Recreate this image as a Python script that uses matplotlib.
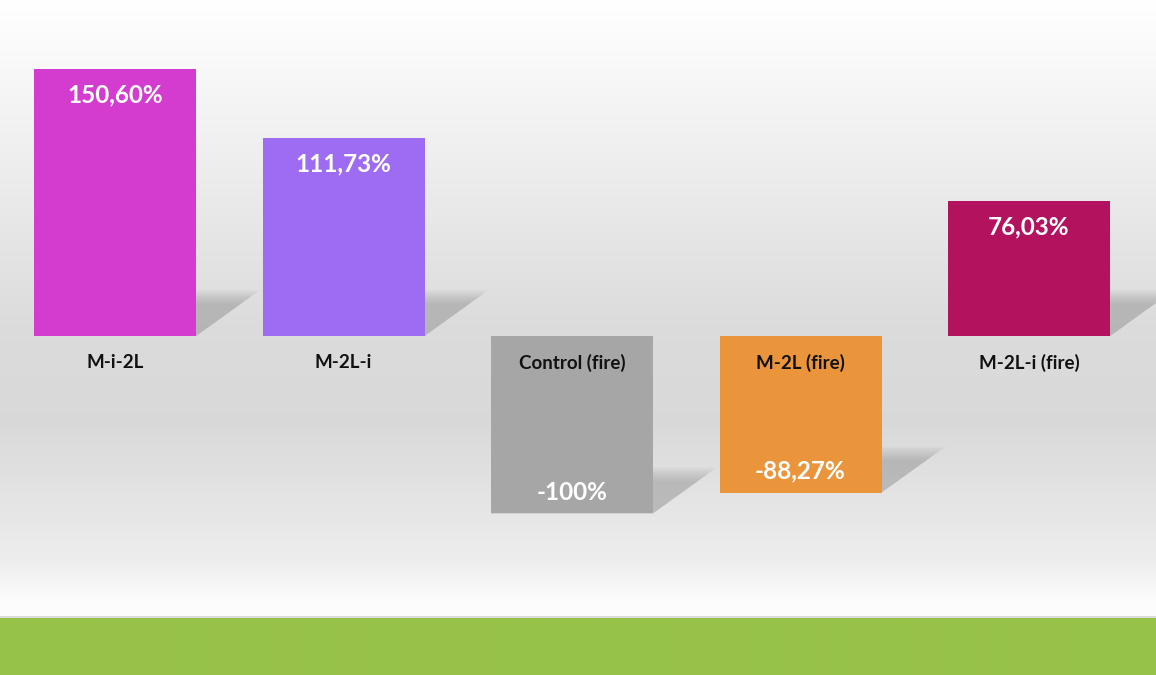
import numpy as np
import matplotlib.pyplot as plt
from matplotlib.patches import Polygon

categories = ["M-i-2L", "M-2L-i", "Control (fire)", "M-2L (fire)", "M-2L-i (fire)"]
values = [150.60, 111.73, -100.0, -88.27, 76.03]
value_labels = ["150,60%", "111,73%", "-100%", "-88,27%", "76,03%"]
colors = ["#d33ccf", "#9d6cf2", "#a6a6a6", "#ea943c", "#b3125f"]

W, H, DPI = 1156, 675, 100
fig = plt.figure(figsize=(W / DPI, H / DPI), dpi=DPI)

# background: white -> light gray -> white, green band at the bottom
bg = fig.add_axes([0, 0, 1, 1])
bg.set_axis_off()
rows = np.arange(H)
shade = np.interp(rows, [0, 40, 330, 420, 560, 600, 618], [1.0, 0.985, 0.86, 0.85, 0.93, 0.99, 0.99])
img = np.repeat(shade[:, None], 2, axis=1)
img = np.dstack([img, img, img])
img[618:] = np.array([0x97, 0xc2, 0x4a]) / 255
img[616:618] = 0.86
bg.imshow(img, aspect="auto", extent=[0, 1, 0, 1], origin="upper", interpolation="bilinear")
bg.set_xlim(0, 1)
bg.set_ylim(0, 1)

# chart axes covering the whole canvas; baseline sits at 336 px from the top
px_per_unit = 1.773
x0_px, step_px = 115, 228.5
ax = fig.add_axes([0, 0, 1, 1])
ax.patch.set_alpha(0)
ax.set_axis_off()
ax.set_xlim(-x0_px / step_px, (W - x0_px) / step_px)
ax.set_ylim(-(H - 336) / px_per_unit, 336 / px_per_unit)

x = np.arange(len(categories))
width = 162 / step_px
dx, dy = 64 / step_px, 46 / px_per_unit

# soft perspective shadows behind each bar
for xi, v in zip(x, values):
    base = min(0, v)
    for s in np.linspace(1.0, 0.7, 10):
        pts = [(xi - width / 2, base), (xi + width / 2, base),
               (xi + width / 2 + dx * s, base + dy * s), (xi - width / 2 + dx * s, base + dy * s)]
        ax.add_patch(Polygon(pts, closed=True, facecolor="#8f8f8f", edgecolor="none",
                             alpha=0.06, zorder=1))

bars = ax.bar(x, values, width=width, color=colors, zorder=3)

for xi, v, lab, cat in zip(x, values, value_labels, categories):
    if v >= 0:
        ax.text(xi, v - 14.5, lab, ha="center", va="center", color="white",
                fontsize=17.5, fontweight="bold", family="Lato", zorder=4)
    else:
        ax.text(xi, v + 12, lab, ha="center", va="center", color="white",
                fontsize=17.5, fontweight="bold", family="Lato", zorder=4)
    ax.text(xi, -15.2, cat, ha="center", va="center", color="#111111",
            fontsize=13.5, fontweight="bold", family="Lato", zorder=4)

fig.savefig("out.png", dpi=DPI)
